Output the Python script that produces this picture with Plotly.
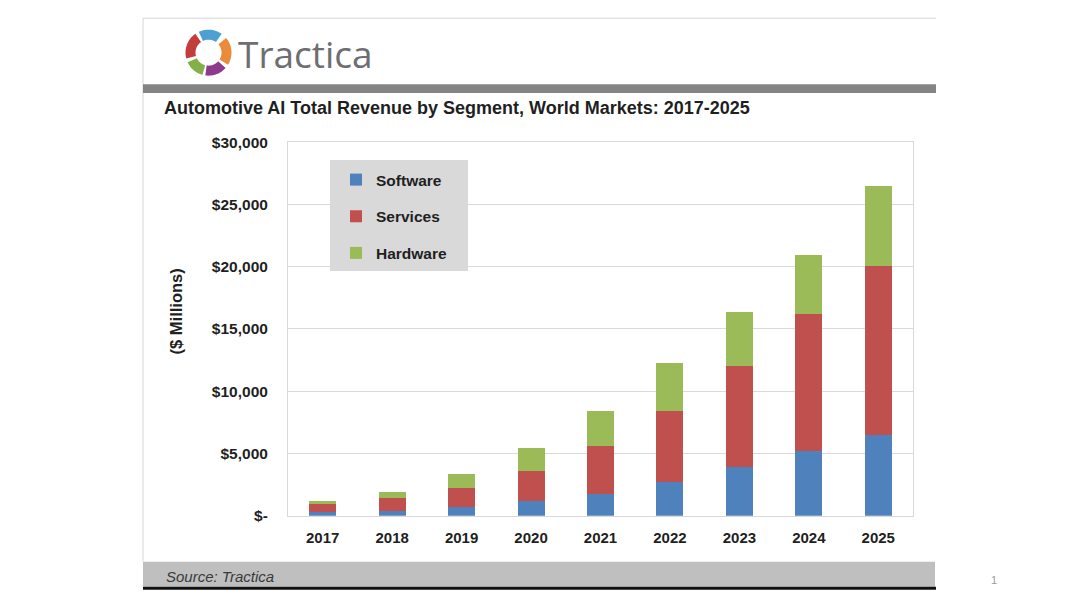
import numpy as np
import plotly.graph_objects as go

# --- Data ($ millions) ---
years = ["2017", "2018", "2019", "2020", "2021", "2022", "2023", "2024", "2025"]
software = [300, 350, 720, 1200, 1760, 2670, 3950, 5210, 6440]
services = [620, 1100, 1500, 2350, 3800, 5750, 8080, 10960, 13630]
hardware = [220, 450, 1130, 1880, 2860, 3850, 4300, 4760, 6420]

series_names = ["Software", "Services", "Hardware"]
series_colors = ["#4f81bd", "#c0504d", "#9bbb59"]

y_tick_vals = [0, 5000, 10000, 15000, 20000, 25000, 30000]
y_tick_text = ["$-", "$5,000", "$10,000", "$15,000", "$20,000", "$25,000", "$30,000"]

W, H = 1080, 608
FONT = "Liberation Sans, Arial, sans-serif"


def px(x):
    return x / W


def py(y):
    # vertical calibration measured from a test render of the page
    y = (y - 8.8) / 0.973
    return 1 - y / H


def sector_path(cx, cy, r_in, r_out, a0, a1):
    """Annular sector as an SVG path in paper coords (angles in degrees, y up)."""
    if a1 < a0:
        a1 += 360
    t = np.radians(np.linspace(a0, a1, 16))
    outer = [(cx + r_out * np.cos(a), cy - r_out * np.sin(a)) for a in t]
    inner = [(cx + r_in * np.cos(a), cy - r_in * np.sin(a)) for a in t[::-1]]
    pts = outer + inner
    return "M " + " L ".join(f"{px(x):.5f},{py(y):.5f}" for x, y in pts) + " Z"


fig = go.Figure()

for name, vals, color in zip(series_names, [software, services, hardware], series_colors):
    fig.add_trace(go.Bar(
        x=years, y=vals, name=name, legendgroup=name,
        marker=dict(color=color, line=dict(width=0)),
    ))

shapes = [
    # slide frame
    dict(type="line", xref="paper", yref="paper", x0=px(143), x1=px(936), y0=py(18), y1=py(18),
         line=dict(color="#d6d6d6", width=1)),
    dict(type="line", xref="paper", yref="paper", x0=px(143), x1=px(143), y0=py(18), y1=py(562),
         line=dict(color="#d6d6d6", width=1)),
    dict(type="rect", xref="paper", yref="paper", x0=px(143), x1=px(936), y0=py(93), y1=py(84),
         fillcolor="#848484", line=dict(width=0)),
    dict(type="rect", xref="paper", yref="paper", x0=px(143), x1=px(935), y0=py(587), y1=py(562),
         fillcolor="#bfbfbf", line=dict(width=0)),
    dict(type="line", xref="paper", yref="paper", x0=px(143), x1=px(936), y0=py(588.5), y1=py(588.5),
         line=dict(color="#111111", width=3)),
    # legend box
    dict(type="rect", xref="paper", yref="paper", x0=px(330), x1=px(468), y0=py(271), y1=py(160),
         fillcolor="#d9d9d9", line=dict(width=0), layer="above"),
]

# Tractica logo ring
logo_parts = [(55, 115, "#4e9fd2"), (125, 195, "#c43d3d"), (205, 255, "#84b04a"),
              (262, 318, "#8e3a8c"), (328, 40, "#e98b3b")]
for a0, a1, c in logo_parts:
    shapes.append(dict(type="path", xref="paper", yref="paper",
                       path=sector_path(208.5, 52.5, 13, 23, a0, a1),
                       fillcolor=c, line=dict(width=0)))

annotations = [
    dict(text="Tractica", x=px(236), y=py(53), xanchor="left", yanchor="middle",
         font=dict(family="Open Sans, sans-serif", size=37, color="#6d6e71")),
    dict(text="<b>Automotive AI Total Revenue by Segment, World Markets: 2017-2025</b>",
         x=px(162), y=py(108), xanchor="left", yanchor="middle",
         font=dict(family=FONT, size=18, color="#1f1f1f")),
    dict(text="<b>($ Millions)</b>", x=px(175.5), y=py(312), textangle=-90,
         xanchor="center", yanchor="middle",
         font=dict(family=FONT, size=16.5, color="#1f1f1f")),
    dict(text="<i>Source: Tractica</i>", x=px(164), y=py(577), xanchor="left", yanchor="middle",
         font=dict(family=FONT, size=15, color="#3a3a3a")),
    dict(text="1", x=px(994), y=py(580), xanchor="center", yanchor="middle",
         font=dict(family=FONT, size=11, color="#9a9a9a")),
]
for a in annotations:
    a.update(xref="paper", yref="paper", showarrow=False)

fig.update_layout(
    width=W, height=H,
    margin=dict(l=0, r=0, t=0, b=0),
    paper_bgcolor="white", plot_bgcolor="white",
    barmode="stack", bargap=0.61,
    showlegend=True,
    legend=dict(x=px(336), y=py(163), xanchor="left", yanchor="top",
                bgcolor="rgba(0,0,0,0)", traceorder="grouped", tracegroupgap=13.5,
                font=dict(family=FONT, size=15.5, color="#1f1f1f", weight="bold")),
    shapes=shapes, annotations=annotations,
    xaxis=dict(domain=[px(288), px(913)], type="category",
               showgrid=False, showline=True, mirror=True, linecolor="#d9d9d9", linewidth=1,
               ticks="", ticklabelstandoff=8,
               tickfont=dict(family=FONT, size=15, color="#1f1f1f", weight="bold")),
    yaxis=dict(domain=[py(516), py(142)], range=[0, 30000],
               tickvals=y_tick_vals, ticktext=y_tick_text,
               showgrid=True, gridcolor="#d9d9d9", gridwidth=1, zeroline=False,
               showline=True, mirror=True, linecolor="#d9d9d9", linewidth=1,
               ticks="", ticklabelstandoff=16,
               tickfont=dict(family=FONT, size=15.5, color="#1f1f1f", weight="bold")),
)

# page margin off so the figure sits at the window's top-left corner
fig.write_html("out.html", config={"displayModeBar": False},
               post_script="document.body.style.margin='0';")
